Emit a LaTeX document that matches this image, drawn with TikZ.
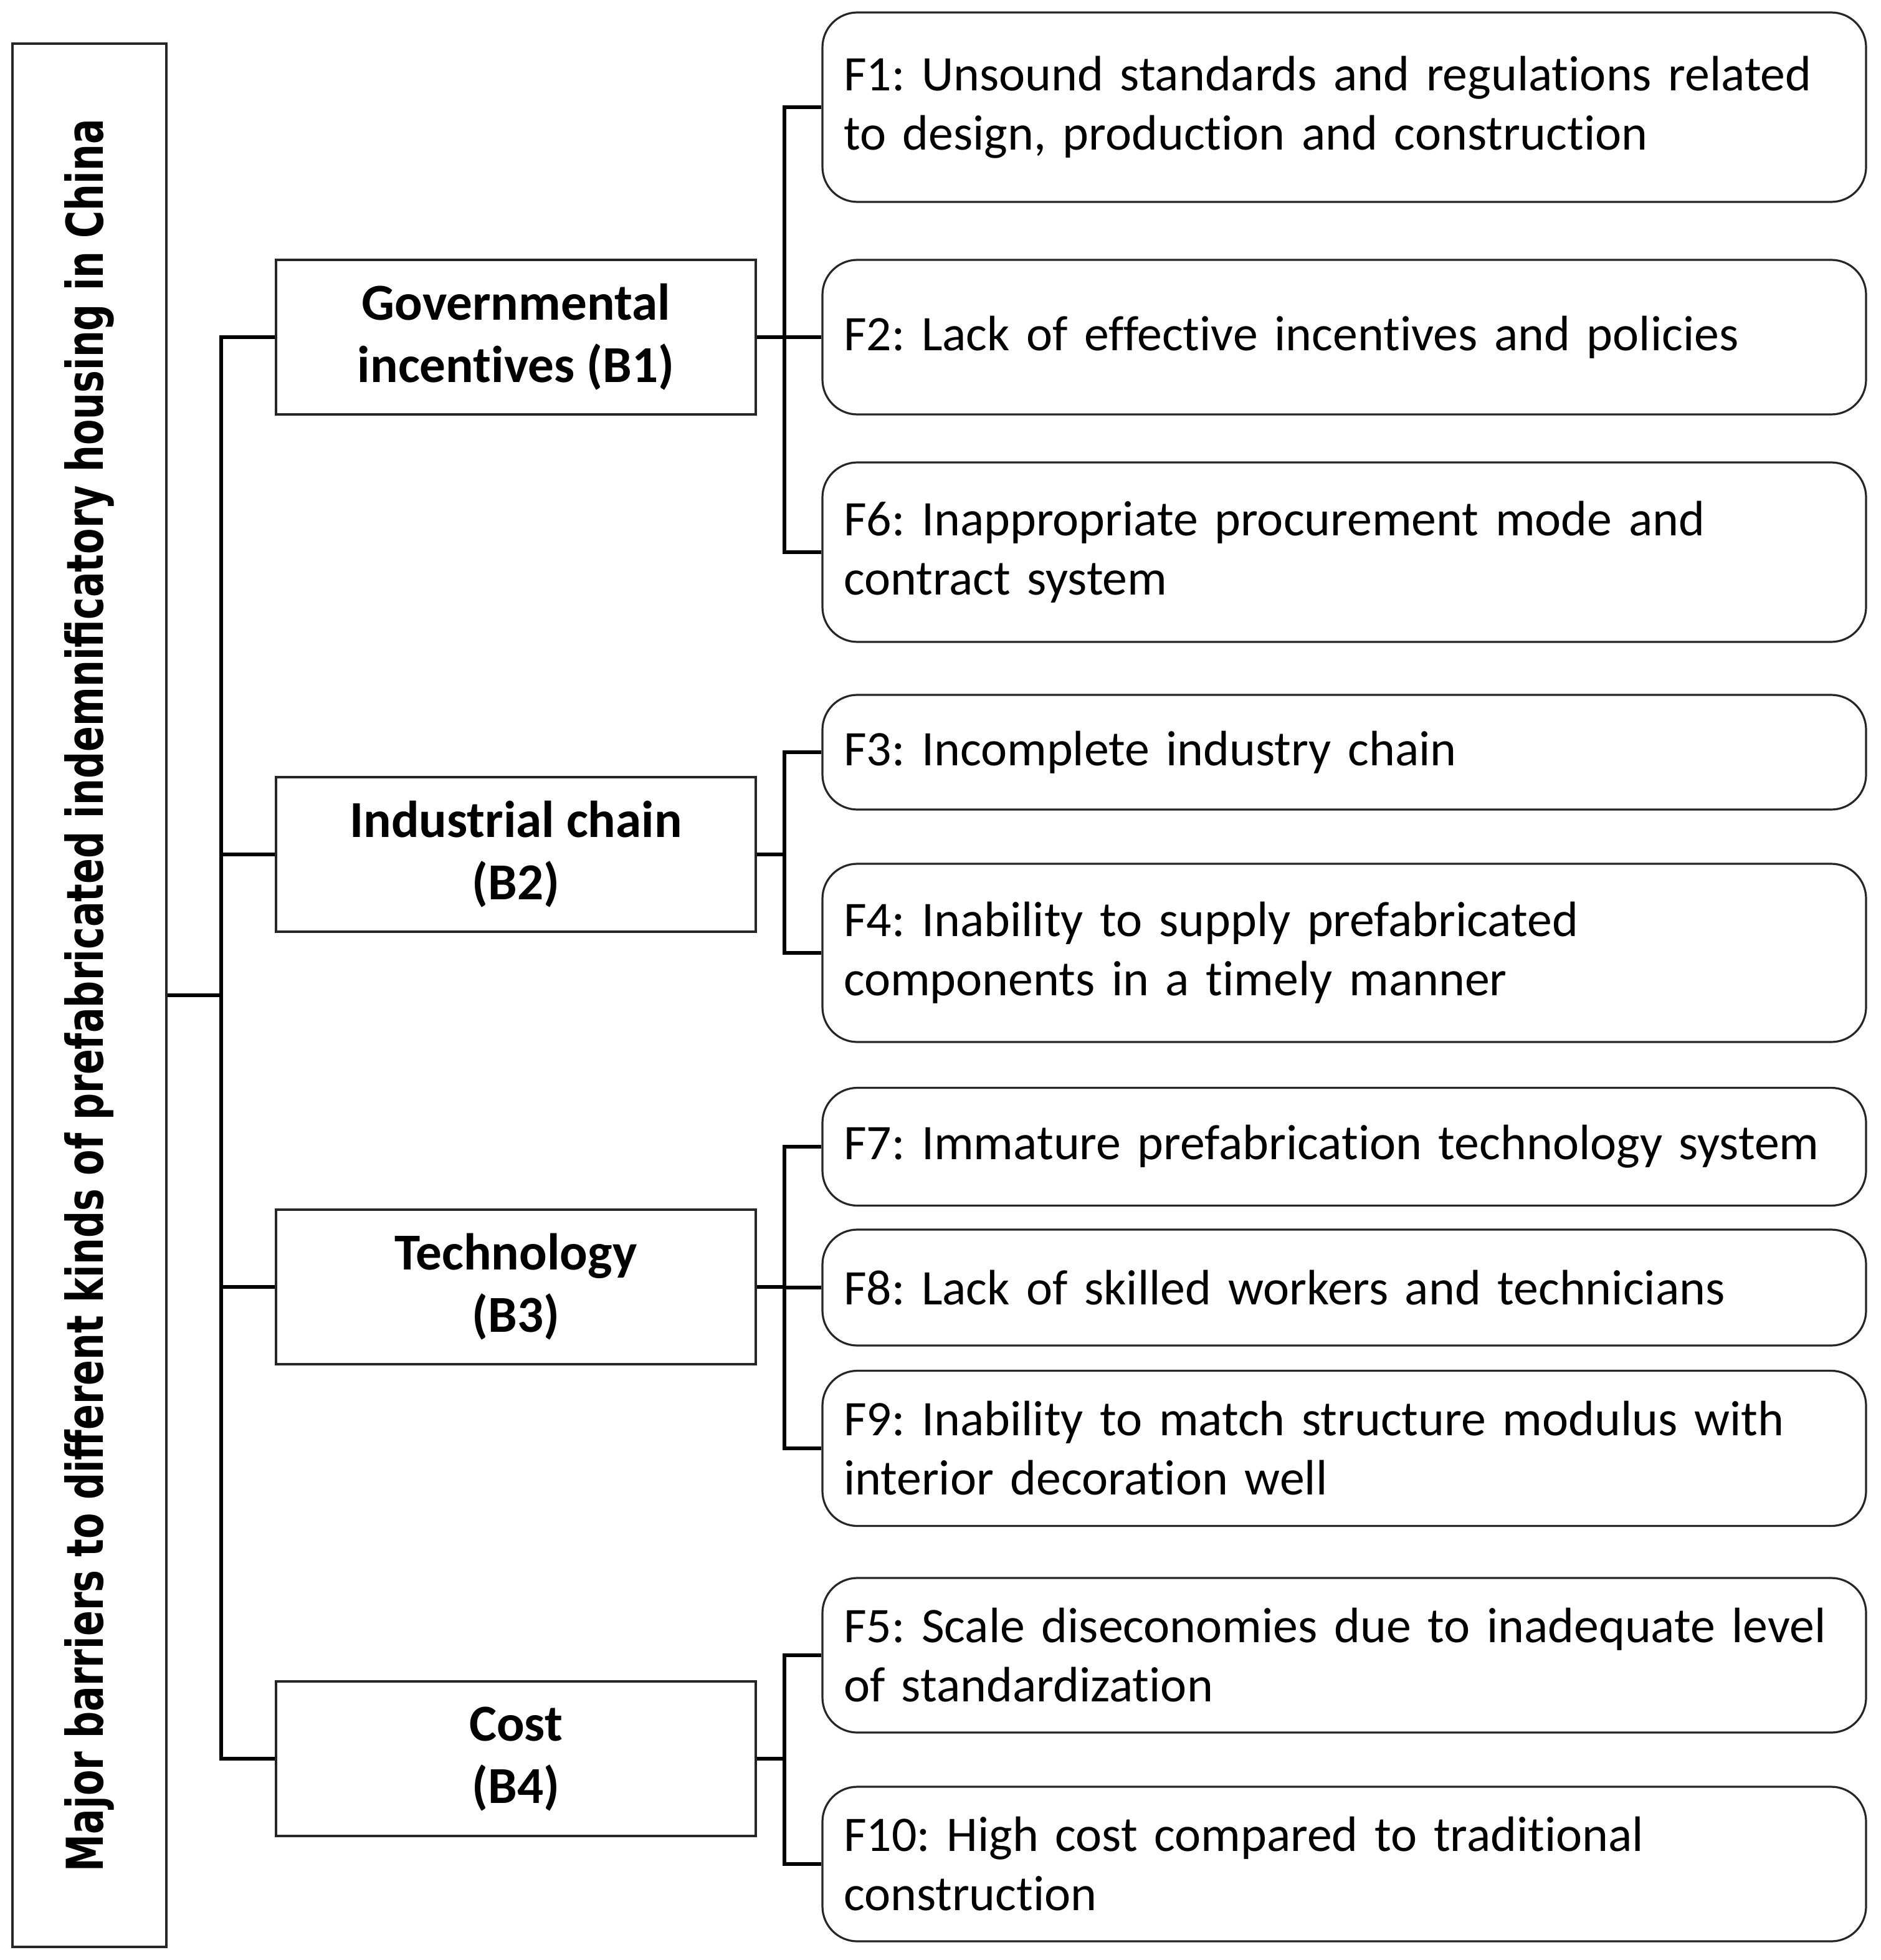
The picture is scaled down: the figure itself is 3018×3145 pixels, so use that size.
\documentclass[tikz,border=0pt]{standalone}
\usepackage{fontspec}
\setmainfont{Carlito}[Ligatures=NoCommon]
\newfontfamily\titlefont{DejaVu Sans}
\frenchspacing
\begin{document}
\begin{tikzpicture}[x=0.25pt,y=-0.25pt,
  boxline/.style={draw=black!85,line width=0.8pt},
  titlebox/.style={boxline,rectangle,minimum width=61.75pt,minimum height=763.5pt,inner sep=0pt},
  bbox/.style={boxline,rectangle,minimum width=192.5pt,minimum height=62pt,inner sep=0pt,
    align=center,font=\fontsize{20.8pt}{25pt}\selectfont\bfseries},
  fbox/.style={boxline,rectangle,rounded corners=14pt,text width=401.75pt,inner xsep=8.5pt,inner ysep=0pt,
    align=left,font=\fontsize{19.95pt}{23.75pt}\selectfont},
  conn/.style={line width=1.7pt,black}]
\useasboundingbox (0,0) rectangle (3018,3145);
% title
\node[titlebox] (L) at (143.5,1597) {};
\node[rotate=90,inner sep=0pt] (Lt) at (143.5,1597)
  {\resizebox{703pt}{15.5pt}{\titlefont\bfseries Major barriers to different kinds of prefabricated indemnificatory housing in China}};
% B boxes
\node[bbox] (B1) at (828,541) {Governmental\\incentives (B1)};
\node[bbox] (B2) at (828,1371) {Industrial chain\\(B2)};
\node[bbox] (B3) at (828,2065) {Technology\\(B3)};
\node[bbox] (B4) at (828,2822) {Cost\\(B4)};
% F boxes
\node[fbox,minimum height=76pt] (F1) at (2157.5,172) {F1: Unsound standards and regulations related\\to design, production and construction};
\node[fbox,minimum height=62pt] (F2) at (2157.5,541) {F2: Lack of effective incentives and policies};
\node[fbox,minimum height=72pt] (F6) at (2157.5,886) {F6: Inappropriate procurement mode and\\contract system};
\node[fbox,minimum height=46pt] (F3) at (2157.5,1207) {F3: Incomplete industry chain};
\node[fbox,minimum height=71.5pt] (F4) at (2157.5,1529) {F4: Inability to supply prefabricated\\components in a timely manner};
\node[fbox,minimum height=47.25pt] (F7) at (2157.5,1840) {F7: Immature prefabrication technology system};
\node[fbox,minimum height=46.5pt] (F8) at (2157.5,2066) {F8: Lack of skilled workers and technicians};
\node[fbox,minimum height=62.25pt] (F9) at (2157.5,2324) {F9: Inability to match structure modulus with\\interior decoration well};
\node[fbox,minimum height=62pt] (F5) at (2157.5,2656) {F5: Scale diseconomies due to inadequate level\\of standardization};
\node[fbox,minimum height=62pt] (F10) at (2157.5,2991) {F10: High cost compared to traditional\\construction};
% connectors
\coordinate (T) at (355,1597);
\coordinate (X) at (1259,0);
\draw[conn] (L.east) -- (T);
\draw[conn] (B1.west) -| (T) |- (B4.west);
\draw[conn] (B2.west) -- (B2.west -| T);
\draw[conn] (B3.west) -- (B3.west -| T);
\coordinate (J1) at (B1.east -| X);
\coordinate (J2) at (B2.east -| X);
\coordinate (J3) at (B3.east -| X);
\coordinate (J4) at (B4.east -| X);
\draw[conn] (B1.east) -- (J1);
\draw[conn] (F1.west) -| (J1) |- (F6.west);
\draw[conn] (J1) -- (F2.west -| J1) -- (F2.west);
\draw[conn] (B2.east) -- (J2);
\draw[conn] (F3.west) -| (J2) |- (F4.west);
\draw[conn] (B3.east) -- (J3);
\draw[conn] (F7.west) -| (J3) |- (F9.west);
\draw[conn] (J3) -- (F8.west -| J3) -- (F8.west);
\draw[conn] (B4.east) -- (J4);
\draw[conn] (F5.west) -| (J4) |- (F10.west);
\end{tikzpicture}
\end{document}
